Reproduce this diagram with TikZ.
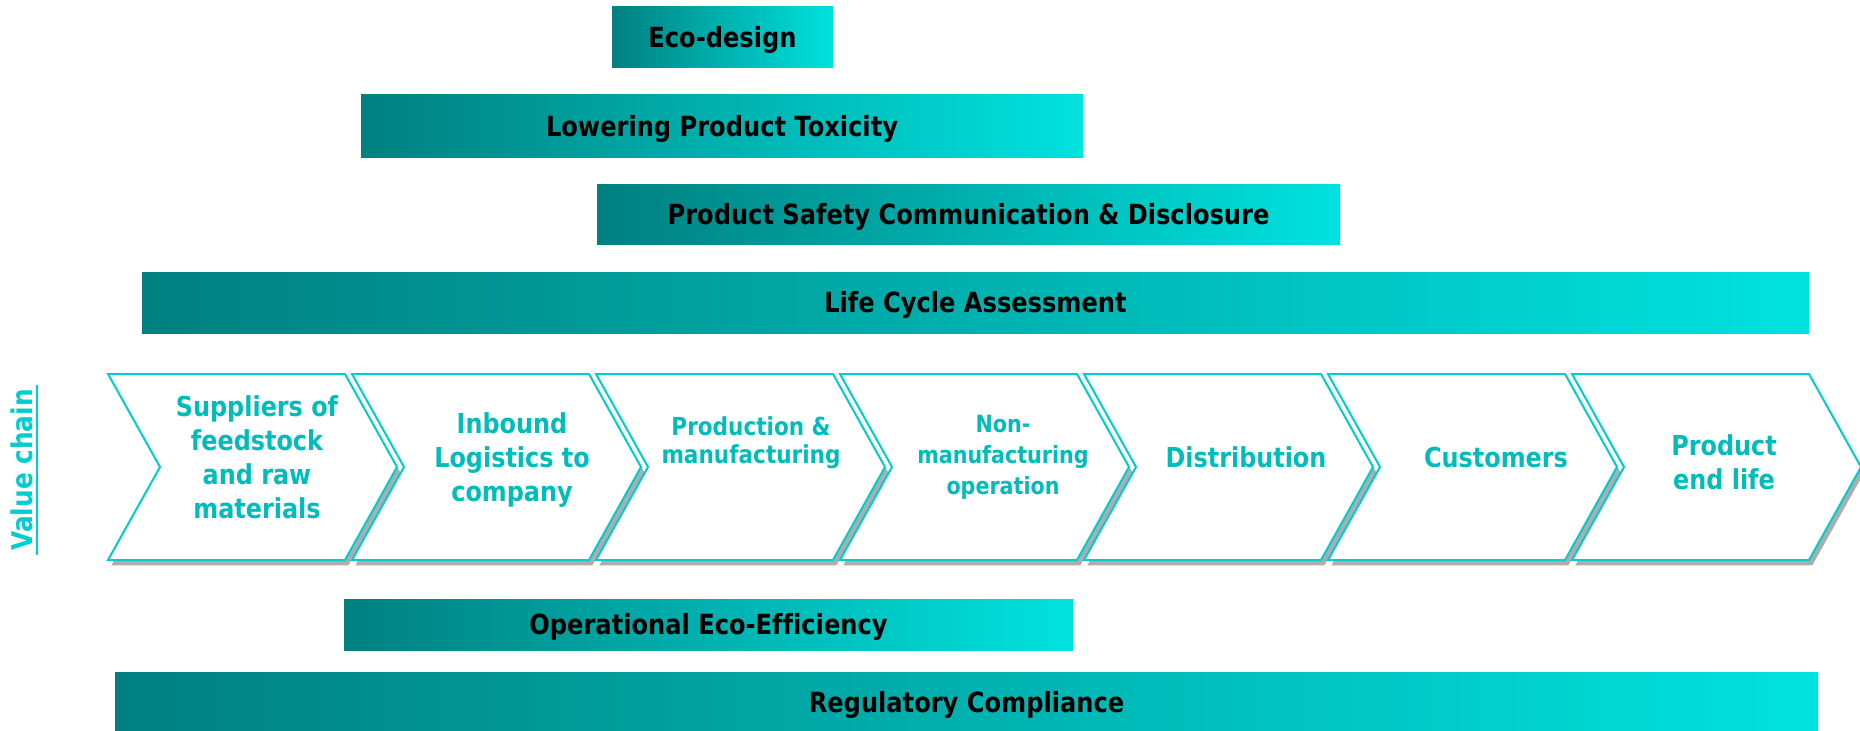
\documentclass[tikz,border=0pt]{standalone}
\usepackage{fontspec}
\setmainfont{DejaVu Sans}[FakeStretch=0.87, Ligatures=NoCommon]
\usepackage{tikz}
\usetikzlibrary{shadows}

\definecolor{tealdark}{RGB}{0,128,128}
\definecolor{tealbright}{RGB}{0,226,222}
\definecolor{chainline}{RGB}{0,206,206}
\definecolor{chaintext}{RGB}{0,188,186}

\tikzset{
  bar/.style={left color=tealdark, right color=tealbright, draw=none},
  bartext/.style={text=black, text height=15.2pt, text depth=0pt, font=\bfseries\fontsize{20.8}{24}\selectfont},
  chevron/.style={draw=chainline, line width=1.5pt, fill=white, line join=miter,
    drop shadow={shadow xshift=2.5pt, shadow yshift=-4pt, fill=black!40, opacity=.8}},
  chevbig/.style={text=chaintext, align=center, font=\bfseries\fontsize{20.6}{25.5}\selectfont},
  chevsmall/.style={text=chaintext, align=center, font=\bfseries\fontsize{18.6}{20.8}\selectfont},
  chevmid/.style={text=chaintext, align=center, font=\bfseries\fontsize{17.8}{23.2}\selectfont}
}

\begin{document}
\begin{tikzpicture}[x=0.75pt, y=-0.75pt]
        \useasboundingbox (0,0) rectangle (1860,731);
        % shaded bars
        \foreach \a/\b/\c/\d/\n/\t in {612/7/833/68/eco/Eco-design,
            361/95/1083/158/tox/Lowering Product Toxicity,
            597/185/1340/244/safety/{Product Safety Communication \& Disclosure},
            142/272/1809/333/lca/Life Cycle Assessment,
            344/599/1073/650/opeco/Operational Eco-Efficiency,
            115/672/1818/732/reg/Regulatory Compliance}
        {\path[bar] (\a,\b) rectangle (\c,\d);
         \node[bartext] (\n) at ({(\a+\c)/2},{(\b+\d)/2}) {\t};}
        % value chain arrows
        \foreach \i in {0,...,6}{
        \pgfmathsetmacro\L{108+244*\i}
        \draw[chevron] (\L,374) -- ++(237,0) -- ++(52,93) -- ++(-52,93) -- ++(-237,0) -- ++(52,-93) -- cycle;}
        \foreach \x/\y/\s/\n/\t in {257/457/chevbig/sup/{Suppliers of\\feedstock\\and raw\\materials},
            512/460/chevbig/inb/{Inbound\\Logistics to\\company},
            751/443/chevsmall/prod/{Production \&\\manufacturing},
            1003/457/chevmid/nonman/{Non-\\manufacturing\\operation},
            1246/457/chevbig/dist/Distribution,
            1496/457/chevbig/cust/Customers,
            1724/462/chevbig/endlife/{Product\\end life}}
        \node[\s] (\n) at (\x,\y) {\t};
        \node[rotate=90, inner sep=3pt, text=chainline, font=\bfseries\fontsize{21.4}{25}\selectfont] (vc) at (22,470) {Value chain};
        \draw[chainline, line width=1.5pt] (vc.south west) -- (vc.south east);
    \end{tikzpicture}
\end{document}
